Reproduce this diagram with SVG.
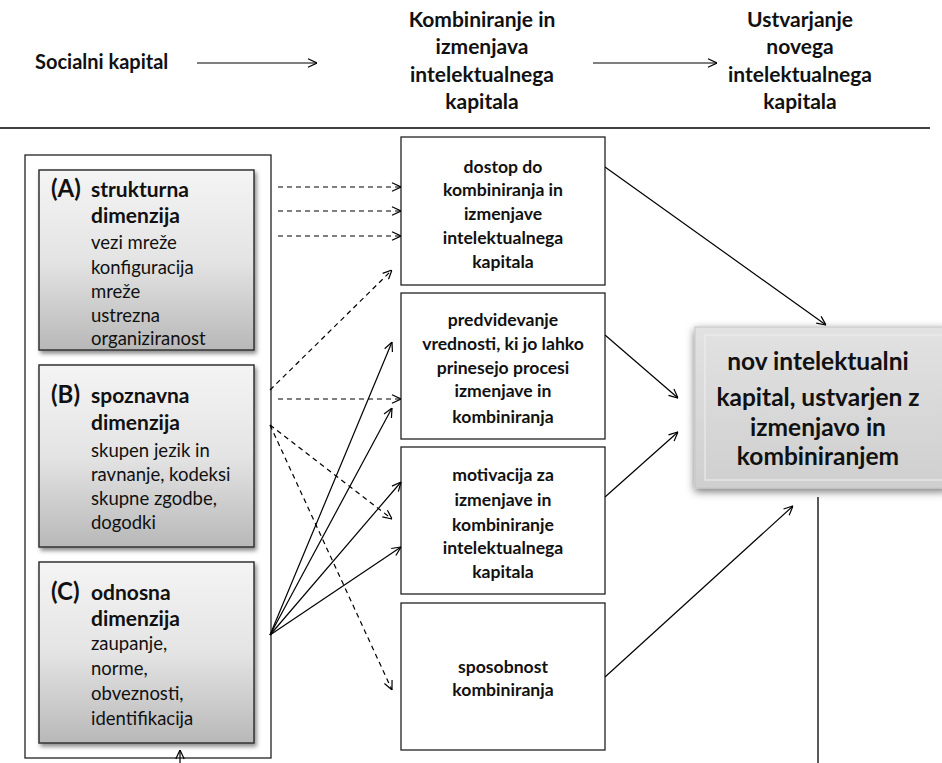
<svg xmlns="http://www.w3.org/2000/svg" width="942" height="763" viewBox="0 0 942 763">
<style>
text{font-family:Lato,"Liberation Sans",sans-serif;fill:#111}
.hd{font-size:21px;font-weight:bold;text-anchor:middle}
.mb{font-size:17.6px;font-weight:bold;text-anchor:middle}
.lt{font-size:18.5px}
.lb{font-size:21px;font-weight:bold}
.ll{font-size:24px;font-weight:bold}
.rb{font-size:24.5px;font-weight:bold;text-anchor:middle}
.box{fill:#fff;stroke:#222;stroke-width:1.3}
.dim{fill:url(#gg);stroke:#333;stroke-width:1.5;filter:url(#sh)}
.c{stroke:#000;stroke-width:1.2;fill:none;marker-end:url(#ah)}
.d{stroke:#000;stroke-width:1.2;fill:none;stroke-dasharray:5 4;marker-end:url(#ah)}
</style>
<defs>
<marker id="ah" viewBox="0 0 10 10" refX="10" refY="5" markerWidth="10" markerHeight="10" markerUnits="userSpaceOnUse" orient="auto">
<path d="M1,0.8 L10,5 L1,9.2" fill="none" stroke="#000" stroke-width="1.2"/>
</marker>
<linearGradient id="gg" x1="0" y1="0" x2="0" y2="1">
<stop offset="0" stop-color="#f4f4f4"/>
<stop offset="0.5" stop-color="#e4e4e4"/>
<stop offset="1" stop-color="#b8b8b8"/>
</linearGradient>
<linearGradient id="rg" x1="0" y1="0" x2="0" y2="1">
<stop offset="0" stop-color="#e2e2e2"/>
<stop offset="1" stop-color="#cfcfcf"/>
</linearGradient>
<filter id="sh" x="-10%" y="-10%" width="130%" height="130%">
<feDropShadow dx="2" dy="3" stdDeviation="2" flood-color="#000" flood-opacity="0.45"/>
</filter>
<filter id="sh2" x="-10%" y="-15%" width="130%" height="140%">
<feDropShadow dx="0" dy="3" stdDeviation="4" flood-color="#000" flood-opacity="0.55"/>
</filter>
</defs>

<g id="header">
<text x="35" y="69" style="font-size:20px;font-weight:bold">Socialni kapital</text>
<text class="hd" x="482" y="27">Kombiniranje in</text>
<text class="hd" x="482" y="54">izmenjava</text>
<text class="hd" x="482" y="82">intelektualnega</text>
<text class="hd" x="482" y="109">kapitala</text>
<text class="hd" x="800" y="27">Ustvarjanje</text>
<text class="hd" x="800" y="54">novega</text>
<text class="hd" x="800" y="82">intelektualnega</text>
<text class="hd" x="800" y="109">kapitala</text>
<line x1="0" y1="128" x2="930" y2="128" stroke="#000" stroke-width="1.3"/>
</g>

<g id="social-capital">
<rect class="box" x="25" y="155" width="246" height="603"/>
</g>

<g id="dim-a">
<rect class="dim" x="39" y="170" width="215" height="180"/>
<text class="ll" x="51" y="197">(A)</text>
<text class="lb" x="91" y="197">strukturna</text>
<text class="lb" x="91" y="223">dimenzija</text>
<text class="lt" x="91" y="249">vezi mreže</text>
<text class="lt" x="91" y="274">konfiguracija</text>
<text class="lt" x="91" y="298">mreže</text>
<text class="lt" x="91" y="322">ustrezna</text>
<text class="lt" x="91" y="345">organiziranost</text>
</g>

<g id="dim-b">
<rect class="dim" x="39" y="365" width="215" height="182"/>
<text class="ll" x="51" y="403">(B)</text>
<text class="lb" x="91" y="403">spoznavna</text>
<text class="lb" x="91" y="430">dimenzija</text>
<text class="lt" x="91" y="457">skupen jezik in</text>
<text class="lt" x="91" y="481">ravnanje, kodeksi</text>
<text class="lt" x="91" y="505">skupne zgodbe,</text>
<text class="lt" x="91" y="529">dogodki</text>
</g>

<g id="dim-c">
<rect class="dim" x="39" y="562" width="215" height="181"/>
<text class="ll" x="51" y="600">(C)</text>
<text class="lb" x="91" y="600">odnosna</text>
<text class="lb" x="91" y="626">dimenzija</text>
<text class="lt" x="91" y="650">zaupanje,</text>
<text class="lt" x="91" y="675">norme,</text>
<text class="lt" x="91" y="700">obveznosti,</text>
<text class="lt" x="91" y="725">identifikacija</text>
</g>

<g id="access">
<rect class="box" x="401" y="137" width="204" height="148"/>
<text class="mb" x="503" y="173">dostop do</text>
<text class="mb" x="503" y="196">kombiniranja in</text>
<text class="mb" x="503" y="220">izmenjave</text>
<text class="mb" x="503" y="244">intelektualnega</text>
<text class="mb" x="503" y="268">kapitala</text>
</g>

<g id="anticipation">
<rect class="box" x="401" y="293" width="204" height="146"/>
<text class="mb" x="503" y="326">predvidevanje</text>
<text class="mb" x="503" y="350">vrednosti, ki jo lahko</text>
<text class="mb" x="503" y="374">prinesejo procesi</text>
<text class="mb" x="503" y="397">izmenjave in</text>
<text class="mb" x="503" y="423">kombiniranja</text>
</g>

<g id="motivation">
<rect class="box" x="401" y="447" width="204" height="147"/>
<text class="mb" x="503" y="481">motivacija za</text>
<text class="mb" x="503" y="506">izmenjave in</text>
<text class="mb" x="503" y="531">kombiniranje</text>
<text class="mb" x="503" y="554">intelektualnega</text>
<text class="mb" x="503" y="578">kapitala</text>
</g>

<g id="capability">
<rect class="box" x="401" y="603" width="204" height="147"/>
<text class="mb" x="503" y="673">sposobnost</text>
<text class="mb" x="503" y="696">kombiniranja</text>
</g>

<g id="new-capital">
<rect x="695" y="327" width="252" height="161" fill="url(#rg)" stroke="#c4c4c4" stroke-width="1" filter="url(#sh2)"/>
<rect x="705" y="335" width="240" height="145" fill="none" stroke="#f0f0f0" stroke-width="1"/>
<text class="rb" x="818" y="370">nov intelektualni</text>
<text class="rb" x="818" y="406">kapital, ustvarjen z</text>
<text class="rb" x="818" y="436">izmenjavo in</text>
<text class="rb" x="818" y="465">kombiniranjem</text>
</g>

<g id="connectors">
<line class="c" x1="197" y1="63" x2="317" y2="63"/>
<line class="c" x1="593" y1="63" x2="717" y2="63"/>
<line class="d" x1="278" y1="187" x2="401" y2="187"/>
<line class="d" x1="278" y1="211" x2="401" y2="211"/>
<line class="d" x1="278" y1="236" x2="401" y2="236"/>
<line class="d" x1="270" y1="390" x2="392" y2="270"/>
<line class="d" x1="278" y1="399" x2="401" y2="399"/>
<line class="d" x1="270" y1="425" x2="392" y2="519"/>
<line class="d" x1="270" y1="425" x2="392" y2="690"/>
<line class="c" x1="270" y1="635" x2="392" y2="342"/>
<line class="c" x1="270" y1="635" x2="392" y2="408"/>
<line class="c" x1="270" y1="635" x2="401" y2="482"/>
<line class="c" x1="270" y1="635" x2="401" y2="547"/>
<line class="c" x1="605" y1="167" x2="826" y2="325"/>
<line class="c" x1="605" y1="335" x2="678" y2="398"/>
<line class="c" x1="605" y1="497" x2="678" y2="432"/>
<line class="c" x1="605" y1="677" x2="793" y2="506"/>
<line x1="818" y1="497" x2="818" y2="763" stroke="#000" stroke-width="1.3"/>
<line class="c" x1="180" y1="765" x2="180" y2="750"/>
</g>
</svg>
